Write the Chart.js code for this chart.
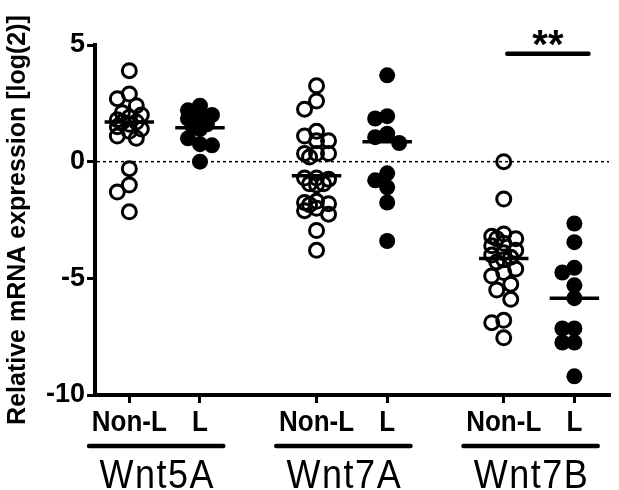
<!DOCTYPE html>
<html><head><meta charset="utf-8">
<script src="https://cdn.jsdelivr.net/npm/chart.js@4.4.1/dist/chart.umd.min.js"></script>
<style>html,body{margin:0;padding:0;background:#fff}canvas{display:block}</style>
</head><body>
<canvas id="c" width="619" height="490"></canvas>
<script>
const categories = ['Non-L', 'L', 'Non-L', 'L', 'Non-L', 'L'];
const genes = ['Wnt5A', 'Wnt7A', 'Wnt7B'];
const yTicks = [-10, -5, 0, 5];
const yTitle = 'Relative mRNA expression [log(2)]';
const significance = '**';

const wnt5aNonL = [3.9, 2.9, 2.7, 2.4, 2.1, 2.0, 1.9, 1.8, 1.7, 1.7, 1.6, 1.5, 1.4, 1.3, 1.1, 1.0, -0.3, -1.0, -1.3, -2.15];
const wnt5aL    = [2.4, 2.2, 2.0, 1.9, 1.85, 1.6, 1.5, 1.4, 1.0, 0.75, 0.7, 0.0];
const wnt7aNonL = [3.25, 2.6, 2.25, 1.3, 1.1, 0.9, 0.9, 0.35, 0.35, 0.35, 0.2, -0.7, -0.7, -0.75, -0.95, -0.95, -1.0, -1.7, -1.75, -1.8, -1.85, -2.0, -2.1, -2.25, -2.95, -3.8];
const wnt7aL    = [3.7, 1.95, 1.85, 1.2, 1.05, 0.8, -0.5, -0.8, -1.1, -1.75, -3.4];
const wnt7bNonL = [0.0, -1.6, -3.1, -3.2, -3.3, -3.3, -3.5, -3.6, -3.8, -3.9, -4.0, -4.1, -4.2, -4.3, -4.6, -4.75, -4.9, -5.25, -5.5, -5.9, -6.8, -6.9, -7.55];
const wnt7bL    = [-2.65, -3.45, -4.55, -4.75, -5.3, -5.85, -7.15, -7.15, -7.75, -7.75, -9.2];
const medians   = [1.7, 1.45, -0.6, 0.85, -4.15, -5.85];

const groups = [wnt5aNonL, wnt5aL, wnt7aNonL, wnt7aL, wnt7bNonL, wnt7bL];
const catPos = [1, 2, 3.65, 4.65, 6.3, 7.3];
const FONT = '"Liberation Sans", Arial, sans-serif';

const datasets = groups.map((vals, i) => {
  const filled = i % 2 === 1;
  return {
    label: genes[Math.floor(i / 2)] + ' ' + categories[i],
    data: vals.map(v => ({x: catPos[i], y: v})),
    pointStyle: 'circle',
    pointRadius: filled ? 8 : 7,
    pointHoverRadius: filled ? 8 : 7,
    pointBackgroundColor: filled ? '#000' : 'rgba(255,255,255,0)',
    pointBorderColor: '#000',
    pointBorderWidth: filled ? 0 : 3,
    showLine: false
  };
});

function stretchedText(ctx, text, cx, baseline, font, sy, spacing) {
  ctx.save();
  ctx.translate(cx, baseline);
  ctx.scale(1, sy);
  ctx.font = font;
  ctx.letterSpacing = spacing || '0px';
  ctx.textAlign = 'center';
  ctx.textBaseline = 'alphabetic';
  ctx.fillText(text, 0, 0);
  ctx.restore();
}

const decor = {
  id: 'decor',
  beforeDatasetsDraw(chart) {
    const {ctx, chartArea, scales: {y}} = chart;
    const y0 = y.getPixelForValue(0);
    ctx.save();
    ctx.strokeStyle = '#000';
    ctx.lineWidth = 1.5;
    ctx.setLineDash([3, 3]);
    ctx.beginPath();
    ctx.moveTo(chartArea.left + 2, y0);
    ctx.lineTo(chartArea.right, y0);
    ctx.stroke();
    ctx.restore();
  },
  afterDatasetsDraw(chart) {
    const {ctx, scales: {x, y}} = chart;
    ctx.save();
    ctx.strokeStyle = '#000';
    ctx.lineWidth = 3.5;
    medians.forEach((m, i) => {
      const py = y.getPixelForValue(m);
      ctx.beginPath();
      ctx.moveTo(x.getPixelForValue(catPos[i] - 0.35), py);
      ctx.lineTo(x.getPixelForValue(catPos[i] + 0.35), py);
      ctx.stroke();
    });
    ctx.restore();
  },
  afterDraw(chart) {
    const {ctx, scales: {x, y}} = chart;
    ctx.save();
    ctx.strokeStyle = '#000';
    ctx.fillStyle = '#000';
    ctx.lineCap = 'round';
    ctx.lineWidth = 4.5;
    // category labels under the ticks
    categories.forEach((c, i) => {
      stretchedText(ctx, c, x.getPixelForValue(catPos[i]), 431, 'bold 26px ' + FONT, 1.15);
    });
    genes.forEach((g, gi) => {
      const l = x.getPixelForValue(catPos[gi * 2] - 0.57);
      const r = x.getPixelForValue(catPos[gi * 2 + 1] + 0.33);
      ctx.beginPath();
      ctx.moveTo(l, 446);
      ctx.lineTo(r, 446);
      ctx.stroke();
      stretchedText(ctx, g, (l + r) / 2 + 1, 488, '36px ' + FONT, 1.12, '1.5px');
    });
    const sl = x.getPixelForValue(catPos[4] + 0.05);
    const sr = x.getPixelForValue(catPos[5] + 0.2);
    const sy = y.getPixelForValue(4.63);
    ctx.beginPath();
    ctx.moveTo(sl, sy);
    ctx.lineTo(sr, sy);
    ctx.stroke();
    stretchedText(ctx, significance, (sl + sr) / 2, 58, 'bold 40px ' + FONT, 1);
    ctx.restore();
  }
};

const chart = new Chart(document.getElementById('c'), {
  type: 'scatter',
  data: {datasets},
  options: {
    responsive: false,
    devicePixelRatio: 1,
    animation: false,
    events: [],
    layout: {padding: {top: 45, right: 0, bottom: 0, left: 0}},
    plugins: {legend: {display: false}, tooltip: {enabled: false}},
    scales: {
      x: {
        type: 'linear',
        min: 0.514,
        max: 7.79,
        afterBuildTicks: s => { s.ticks = catPos.map(v => ({value: v})); },
        afterFit: s => { s.height = 95; },
        ticks: {display: false},
        grid: {display: true, drawOnChartArea: false, drawTicks: true, tickLength: 8, tickWidth: 3, color: '#000', lineWidth: 3},
        border: {display: true, color: '#000', width: 4}
      },
      y: {
        min: -10,
        max: 5,
        afterBuildTicks: s => { s.ticks = yTicks.map(v => ({value: v})); },
        afterFit: s => { s.width = 95; },
        ticks: {
          color: '#000',
          padding: 2,
          font: {family: FONT, size: 27, weight: 'bold'}
        },
        title: {
          display: true,
          text: yTitle,
          color: '#000',
          padding: {top: 3, bottom: 0},
          font: {family: FONT, size: 25, weight: 'bold'}
        },
        grid: {display: true, drawOnChartArea: false, drawTicks: true, tickLength: 8, tickWidth: 3, color: '#000', lineWidth: 3},
        border: {display: true, color: '#000', width: 4}
      }
    }
  },
  plugins: [decor]
});

(function swarm() {
  const xs = chart.scales.x, ys = chart.scales.y;
  const cands = [0, -7, 7, -12, 12];
  chart.data.datasets.forEach((ds, i) => {
    const cx = xs.getPixelForValue(catPos[i]);
    const placed = [];
    ds.data.forEach(p => {
      const py = ys.getPixelForValue(p.y);
      let best = 0, bestD = -1;
      for (const o of cands) {
        let d = Infinity;
        for (const q of placed) d = Math.min(d, Math.hypot(q[0] - (cx + o), q[1] - py));
        if (d >= 12) { best = o; bestD = d; break; }
        if (d > bestD) { bestD = d; best = o; }
      }
      placed.push([cx + best, py]);
      p.x = xs.getValueForPixel(cx + best);
    });
  });
  chart.update('none');
})();
</script>
</body></html>
